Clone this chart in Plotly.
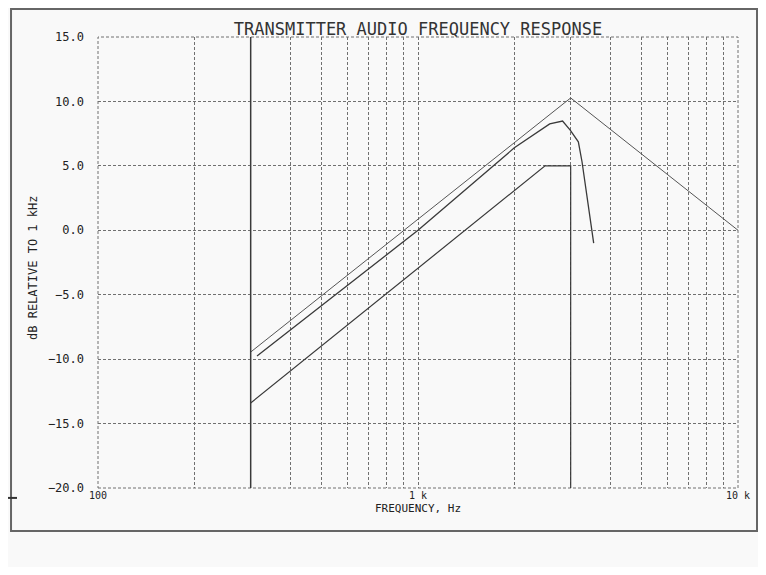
import plotly.graph_objects as go

# ---- data ----
upper_freq = [300, 3000, 10000]
upper_db = [-9.45, 10.27, 0.0]

response_freq = [314, 1000, 2000, 2460, 2580, 2830, 2990, 3170, 3255, 3540]
response_db = [-9.76, 0.0, 6.4, 7.95, 8.25, 8.48, 7.78, 6.87, 5.32, -1.0]

lower_freq = [300, 2495, 3000, 3000]
lower_db = [-13.4, 5.0, 5.0, -20.0]

marker_freq = [300, 300]
marker_db = [-20.0, 15.0]

y_ticks = [15, 10, 5, 0, -5, -10, -15, -20]
x_grid = [m * d for d in (100, 1000) for m in range(1, 10)] + [10000]
x_labels = {100: "100", 1000: "1 k", 10000: "10 k"}

FONT = "DejaVu Sans Mono"
LINE = "#3a3a3a"
GRID = "#707070"

fig = go.Figure()
fig.add_trace(go.Scatter(x=upper_freq, y=upper_db, mode="lines",
                         line=dict(color="#555555", width=1)))
fig.add_trace(go.Scatter(x=response_freq, y=response_db, mode="lines",
                         line=dict(color=LINE, width=1.3)))
fig.add_trace(go.Scatter(x=lower_freq, y=lower_db, mode="lines",
                         line=dict(color=LINE, width=1.2)))
fig.add_trace(go.Scatter(x=marker_freq, y=marker_db, mode="lines",
                         line=dict(color=LINE, width=1.5)))

fig.update_layout(
    width=750, height=559,
    margin=dict(l=90, r=20, t=29, b=79, autoexpand=False),
    paper_bgcolor="#f9f9f9", plot_bgcolor="#f9f9f9",
    showlegend=False,
    font=dict(family=FONT, color="#222222", size=11),
    title=dict(text="TRANSMITTER AUDIO FREQUENCY RESPONSE",
               x=0.5, xanchor="center", xref="paper",
               y=1, yref="paper", yanchor="bottom", pad=dict(b=2),
               font=dict(family=FONT, size=17, color="#333333")),
    xaxis=dict(type="log", range=[2, 4], automargin=False,
               tickvals=x_grid,
               ticktext=[x_labels.get(v, "") for v in x_grid],
               showgrid=True, gridcolor=GRID, gridwidth=1, griddash="3px,2px",
               zeroline=False, showline=False, ticks="",
               ticklabelstandoff=0,
               tickfont=dict(family=FONT, size=10)),
    yaxis=dict(range=[-20, 15], tickvals=y_ticks, tickformat=".1f",
               automargin=False,
               showgrid=True, gridcolor=GRID, gridwidth=1, griddash="3px,2px",
               zeroline=False, showline=False, ticks="",
               ticklabelstandoff=13,
               tickfont=dict(family=FONT, size=12)),
    shapes=[
        dict(type="rect", xref="paper", yref="paper",
             x0=0, x1=1, y0=0, y1=1,
             line=dict(color=GRID, width=1, dash="3px,2px"),
             fillcolor="rgba(0,0,0,0)", layer="below"),
        dict(type="rect", xref="paper", yref="paper",
             x0=-0.1359, x1=1.0297, y0=-0.0953, y1=1.0621,
             line=dict(color="#666666", width=2), fillcolor="rgba(0,0,0,0)",
             layer="below"),
        dict(type="line", xref="paper", yref="paper",
             x0=-0.1406, x1=-0.1266, y0=-0.022, y1=-0.022,
             line=dict(color="#333333", width=2)),
    ],
    annotations=[
        dict(text="dB RELATIVE TO 1 kHz", xref="paper", yref="paper",
             x=(33 - 98) / 640, y=(488 - 268) / 451, textangle=-90,
             showarrow=False, xanchor="center", yanchor="middle",
             font=dict(family=FONT, size=12, color="#222222")),
        dict(text="FREQUENCY, Hz", xref="paper", yref="paper",
             x=0.5, y=(488 - 508) / 451,
             showarrow=False, xanchor="center", yanchor="middle",
             font=dict(family=FONT, size=11, color="#222222")),
    ],
)

fig.write_html("out.html")
